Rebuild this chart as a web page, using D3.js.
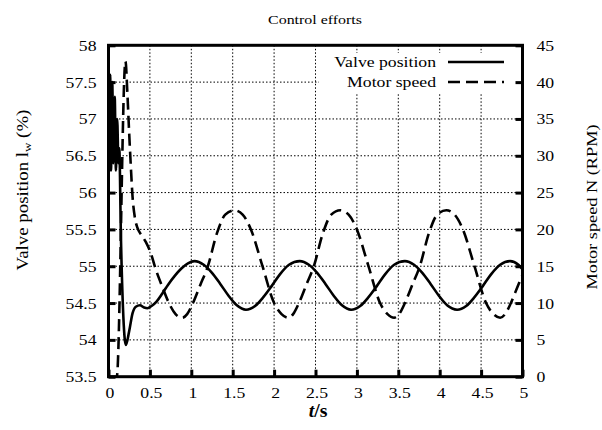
<!DOCTYPE html>
<html>
<head>
<meta charset="utf-8">
<script src="https://cdn.jsdelivr.net/npm/d3@7/dist/d3.min.js"></script>
<style>
  html, body { margin: 0; padding: 0; background: #fff; }
  svg { display: block; }
  svg text { font-family: "Liberation Serif", "DejaVu Serif", serif; fill: #000; }
</style>
</head>
<body>
<svg id="chart" width="602" height="430"></svg>
<script>
// ---- data ----
const chartTitle = "Control efforts";
const xTickValues = [0, 0.5, 1, 1.5, 2, 2.5, 3, 3.5, 4, 4.5, 5];
const xTickLabels = ["0", "0.5", "1", "1.5", "2", "2.5", "3", "3.5", "4", "4.5", "5"];
const leftTickValues = [53.5, 54, 54.5, 55, 55.5, 56, 56.5, 57, 57.5, 58];
const leftTickLabels = ["53.5", "54", "54.5", "55", "55.5", "56", "56.5", "57", "57.5", "58"];
const rightTickValues = [0, 5, 10, 15, 20, 25, 30, 35, 40, 45];
const rightTickLabels = ["0", "5", "10", "15", "20", "25", "30", "35", "40", "45"];
const seriesNames = ["Valve position", "Motor speed"];

// Valve position (%) — solid line, left axis
const valveTime = [0, 0.01, 0.02, 0.03, 0.045, 0.06, 0.075, 0.09, 0.105, 0.12, 0.13, 0.15, 0.18, 0.21,
  0.25, 0.29, 0.33, 0.38, 0.43, 0.47, 0.52, 0.58, 0.65, 0.72, 0.80, 0.88, 0.96, 1.04,
  1.15, 1.25, 1.35, 1.45, 1.55, 1.66, 1.77, 1.87, 1.97, 2.07, 2.18, 2.31,
  2.42, 2.52, 2.62, 2.72, 2.82, 2.93, 3.04, 3.14, 3.24, 3.34, 3.45, 3.58,
  3.69, 3.79, 3.89, 3.99, 4.09, 4.21, 4.32, 4.42, 4.52, 4.62, 4.73, 4.85, 4.95, 5.00];
const valvePosition = [57.6, 56.4, 57.6, 56.3, 57.5, 56.4, 57.3, 56.3, 57.0, 56.4, 56.6, 55.4, 54.3, 53.93,
  54.12, 54.36, 54.45, 54.47, 54.44, 54.43, 54.46, 54.52, 54.63, 54.75, 54.87, 54.97, 55.04, 55.07,
  55.02, 54.91, 54.76, 54.60, 54.47, 54.41, 54.46, 54.58, 54.73, 54.89, 55.02, 55.07,
  55.02, 54.91, 54.76, 54.60, 54.47, 54.41, 54.46, 54.58, 54.73, 54.89, 55.02, 55.07,
  55.02, 54.91, 54.76, 54.60, 54.47, 54.41, 54.46, 54.58, 54.73, 54.89, 55.02, 55.07, 55.02, 54.96];

// Motor speed (RPM) — dashed line, right axis
const speedTime = [0, 0.10, 0.205, 0.23, 0.25, 0.27, 0.29, 0.32, 0.35, 0.40, 0.45, 0.51, 0.57, 0.65, 0.73, 0.81, 0.89,
  0.95, 1.02, 1.11, 1.20, 1.31, 1.41, 1.52, 1.62, 1.72, 1.86, 2.00, 2.09, 2.17,
  2.23, 2.30, 2.39, 2.48, 2.59, 2.69, 2.80, 2.90, 3.00, 3.14, 3.28, 3.37, 3.45,
  3.51, 3.58, 3.67, 3.76, 3.87, 3.97, 4.08, 4.18, 4.28, 4.42, 4.56, 4.65, 4.73,
  4.79, 4.86, 4.95, 5.00];
const motorSpeed = [0, 0, 42.8, 38, 33, 28.5, 24.5, 21.5, 20.2, 19.2, 18.3, 16.8, 14.6, 12.2, 10.0, 8.5, 8.0,
  8.5, 10.0, 12.5, 15.0, 19.5, 22.0, 22.6, 22.0, 20.0, 15.0, 10.0, 8.5, 8.0,
  8.5, 10.0, 12.5, 15.0, 19.5, 22.0, 22.6, 22.0, 20.0, 15.0, 10.0, 8.5, 8.0,
  8.5, 10.0, 12.5, 15.0, 19.5, 22.0, 22.6, 22.0, 20.0, 15.0, 10.0, 8.5, 8.0,
  8.5, 10.0, 12.5, 13.8];

// ---- drawing ----
const FONT = "'Liberation Serif', 'DejaVu Serif', serif";
const svg = d3.select("#chart");
const W = 602, H = 430;
const plot = { left: 108.5, right: 522.5, top: 45.3, bottom: 376.7 };
const SX = 1.18; // horizontal glyph stretch of the reference

svg.append("rect").attr("width", W).attr("height", H).attr("fill", "#fff");

const x = d3.scaleLinear().domain([0, 5]).range([plot.left, plot.right]);
const yL = d3.scaleLinear().domain([53.5, 58]).range([plot.bottom, plot.top]);
const yR = d3.scaleLinear().domain([0, 45]).range([plot.bottom, plot.top]);

// grid
const grid = svg.append("g").attr("stroke", "#000").attr("stroke-width", 1).attr("stroke-dasharray", "1.5,2");
grid.selectAll("line.gx").data(xTickValues.slice(1, -1)).join("line")
  .attr("x1", d => x(d)).attr("x2", d => x(d)).attr("y1", plot.top).attr("y2", plot.bottom);
grid.selectAll("line.gy").data(leftTickValues.slice(1, -1)).join("line")
  .attr("x1", plot.left).attr("x2", plot.right).attr("y1", d => yL(d)).attr("y2", d => yL(d));

// legend background (opaque key)
svg.append("rect").attr("x", 319).attr("y", 53).attr("width", plot.right - 319).attr("height", 41).attr("fill", "#fff");

// axes
const fmt = (vals, labels) => d => labels[vals.indexOf(d)];
const axL = svg.append("g").attr("transform", `translate(${plot.left},0)`)
  .call(d3.axisLeft(yL).tickValues(leftTickValues).tickFormat(fmt(leftTickValues, leftTickLabels)).tickSize(-7).tickPadding(0));
const axR = svg.append("g").attr("transform", `translate(${plot.right},0)`)
  .call(d3.axisRight(yR).tickValues(rightTickValues).tickFormat(fmt(rightTickValues, rightTickLabels)).tickSize(-7).tickPadding(0));
const axB = svg.append("g").attr("transform", `translate(0,${plot.bottom})`)
  .call(d3.axisBottom(x).tickValues(xTickValues).tickFormat(fmt(xTickValues, xTickLabels)).tickSize(-7).tickPadding(0));
[axL, axR, axB].forEach(a => {
  a.attr("font-family", FONT).attr("font-size", 15);
  a.select(".domain").remove();
  a.selectAll(".tick line").attr("stroke", "#000").attr("stroke-width", 3);
  a.selectAll(".tick text").attr("font-family", FONT).attr("font-size", 15).attr("fill", "#000").attr("x", 0).attr("y", 0).attr("dy", null);
});
axL.selectAll(".tick text").attr("text-anchor", "end").attr("dy", "0.33em").attr("transform", `translate(-12,0) scale(${SX},1)`);
axR.selectAll(".tick text").attr("text-anchor", "start").attr("dy", "0.33em").attr("transform", `translate(14,0) scale(${SX},1)`);
axB.selectAll(".tick text").attr("text-anchor", "middle").attr("transform", `translate(1,21) scale(${SX},1)`);

// curves
const lineL = d3.line().x((d, i) => x(valveTime[i])).y(d => yL(d)).curve(d3.curveMonotoneX);
const lineR = d3.line().x((d, i) => x(speedTime[i])).y(d => yR(d)).curve(d3.curveMonotoneX);
svg.append("clipPath").attr("id", "clip").append("rect")
  .attr("x", plot.left).attr("y", plot.top).attr("width", plot.right - plot.left).attr("height", plot.bottom - plot.top);
const curves = svg.append("g").attr("clip-path", "url(#clip)");
curves.append("path").attr("d", lineR(motorSpeed)).attr("fill", "none").attr("stroke", "#000")
  .attr("stroke-width", 2.6).attr("stroke-dasharray", "12,6");
curves.append("path").attr("d", lineL(valvePosition)).attr("fill", "none").attr("stroke", "#000")
  .attr("stroke-width", 2.6).attr("stroke-linejoin", "round");

// frame
svg.append("rect").attr("x", plot.left).attr("y", plot.top).attr("width", plot.right - plot.left)
  .attr("height", plot.bottom - plot.top).attr("fill", "none").attr("stroke", "#000").attr("stroke-width", 3);

// legend
const legY = [62, 82];
const leg = svg.append("g").attr("font-family", FONT);
seriesNames.forEach((name, i) => {
  leg.append("text").attr("text-anchor", "end").attr("font-family", FONT).attr("font-size", 15).attr("dy", "0.33em")
    .attr("transform", `translate(436,${legY[i]}) scale(${SX},1)`).text(name);
  leg.append("line").attr("x1", 448).attr("x2", 504).attr("y1", legY[i]).attr("y2", legY[i])
    .attr("stroke", "#000").attr("stroke-width", 2.6).attr("stroke-dasharray", i === 1 ? "12,6" : null);
});

// title
svg.append("text").attr("text-anchor", "middle").attr("font-family", FONT).attr("font-size", 13.5)
  .attr("transform", `translate(315,24) scale(${SX},1)`).text(chartTitle);

// left y label
const tl = svg.append("text").attr("text-anchor", "middle").attr("font-family", FONT).attr("font-size", 16)
  .attr("transform", `translate(28,190) rotate(-90) scale(${SX},1)`);
tl.append("tspan").text("Valve position l");
tl.append("tspan").attr("font-size", 11).attr("dy", 3).text("w");
tl.append("tspan").attr("dy", -3).text(" (%)");

// right y label
svg.append("text").attr("text-anchor", "middle").attr("font-family", FONT).attr("font-size", 15.5)
  .attr("transform", `translate(597,207) rotate(-90) scale(${SX},1)`).text("Motor speed N (RPM)");

// x label
const xl = svg.append("text").attr("text-anchor", "middle").attr("font-family", FONT).attr("font-size", 18).attr("font-weight", "bold")
  .attr("transform", `translate(318,417) scale(1.1,1)`);
xl.append("tspan").attr("font-style", "italic").text("t");
xl.append("tspan").text("/s");
</script>
</body>
</html>
